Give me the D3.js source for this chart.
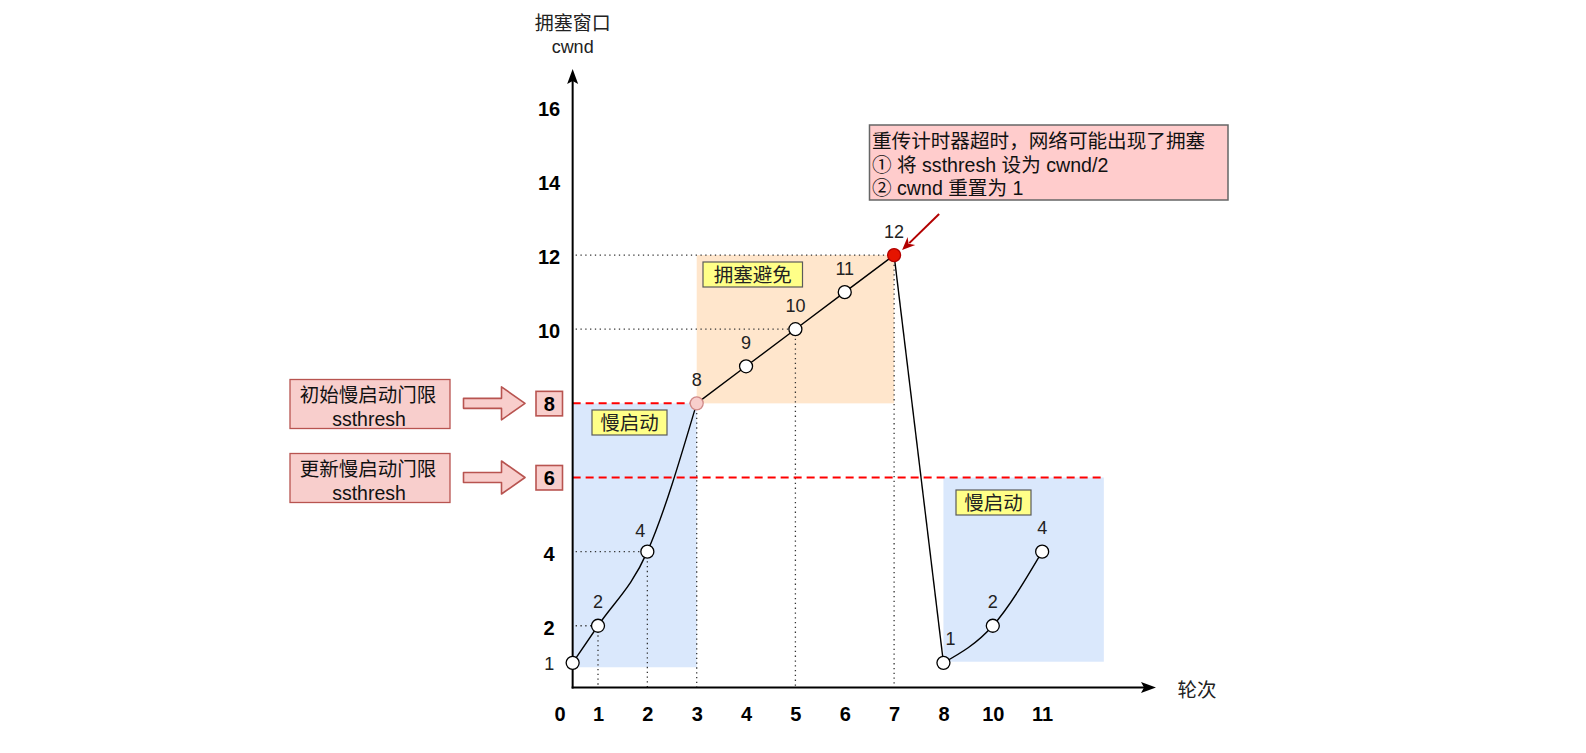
<!DOCTYPE html>
<html><head><meta charset="utf-8">
<script src="https://cdn.jsdelivr.net/npm/d3@7"></script>
<style>
html,body{margin:0;padding:0;background:#fff;}
svg{display:block;}
text{font-family:"Liberation Sans","Noto Sans CJK SC",Arial,sans-serif;}
</style></head>
<body><svg id="c" width="1586" height="753"></svg>
<script>
// ---- data ----
const xLabels = ['0','1','2','3','4','5','6','7','8','10','11'];
const yTicks = [16,14,12,10,4,2];
const ssthreshTicks = [8,6];
const ss1Rounds = ['0','1','2','3'];
const ss1Cwnd = [1,2,4,8];
const caRounds = ['3','4','5','6','7'];
const caCwnd = [8,9,10,11,12];
const dropRounds = ['7','8'];
const dropCwnd = [12,1];
const ss2Rounds = ['8','10','11'];
const ss2Cwnd = [1,2,4];
const dottedH = [2,4,10,12];          // horizontal guides (cwnd)
const dottedV = ['1','2','3','5','7']; // vertical guides (rounds)
const calloutLines = ['重传计时器超时，网络可能出现了拥塞','① 将 ssthresh 设为 cwnd/2','② cwnd 重置为 1'];
const leftNotes = [['初始慢启动门限','ssthresh'],['更新慢启动门限','ssthresh']];

// ---- scales ----
const svg = d3.select('#c');
const x = d3.scalePoint().domain(xLabels).range([548.65, 1042.15]);
const y = d3.scaleLinear().domain([0,16]).range([699.9, 106.8]);
const axisX = x('0') + 24;
const axisY = 687.5;
const px = r => r === '0' ? axisX : x(r);
const step = x.step();

const zip = (rs, vs) => rs.map((r,i)=>({r, v:vs[i]}));
const ss1 = zip(ss1Rounds, ss1Cwnd), ca = zip(caRounds, caCwnd), drop = zip(dropRounds, dropCwnd), ss2 = zip(ss2Rounds, ss2Cwnd);

// ---- shaded regions ----
svg.append('rect').attr('x', axisX).attr('y', y(8)).attr('width', px('3')-axisX).attr('height', y(0.88)-y(8)).attr('fill','#dae8fc');
svg.append('rect').attr('x', px('3')).attr('y', y(12)).attr('width', px('7')-px('3')).attr('height', y(8)-y(12)).attr('fill','#ffe6cc');
svg.append('rect').attr('x', px('8')).attr('y', y(6)).attr('width', px('11')+1.25*step-px('8')).attr('height', y(1.03)-y(6)).attr('fill','#dae8fc');

// ---- dotted guides ----
const all = [...ss1, ...ca, ...ss2];
const find = v => all.find(d=>d.v===v);
dottedH.forEach(v=>{
  const d = find(v);
  svg.append('line').attr('x1', axisX+3).attr('x2', px(d.r)).attr('y1', y(v)).attr('y2', y(v))
    .attr('stroke','#333').attr('stroke-width',1.3).attr('stroke-dasharray','1.3,3.5');
});
dottedV.forEach(r=>{
  const d = all.find(e=>e.r===r);
  svg.append('line').attr('x1', px(r)).attr('x2', px(r)).attr('y1', y(d.v)).attr('y2', axisY)
    .attr('stroke','#333').attr('stroke-width',1.3).attr('stroke-dasharray','1.3,3.5');
});

// ---- ssthresh dashed lines ----
svg.append('line').attr('x1', axisX).attr('x2', px('3')).attr('y1', y(8)).attr('y2', y(8))
  .attr('stroke','#ff0000').attr('stroke-width',2).attr('stroke-dasharray','8,5');
svg.append('line').attr('x1', axisX).attr('x2', px('11')+1.22*step).attr('y1', y(6)).attr('y2', y(6))
  .attr('stroke','#ff0000').attr('stroke-width',2).attr('stroke-dasharray','8,5');

// ---- axes ----
svg.append('line').attr('x1', axisX).attr('x2', axisX).attr('y1', axisY+1).attr('y2', 80).attr('stroke','#000').attr('stroke-width',2);
svg.append('path').attr('d', `M${axisX},69 L${axisX-5.5},84 L${axisX},81 L${axisX+5.5},84Z`).attr('fill','#000');
svg.append('line').attr('x1', axisX-1).attr('x2', 1145).attr('y1', axisY).attr('y2', axisY).attr('stroke','#000').attr('stroke-width',2);
svg.append('path').attr('d', `M1156,${axisY} L1141,${axisY-5.5} L1144,${axisY} L1141,${axisY+5.5}Z`).attr('fill','#000');

const gx = svg.append('g').attr('transform', `translate(0,${axisY})`)
  .call(d3.axisBottom(x).tickSize(0).tickPadding(0));
gx.select('.domain').remove();
gx.selectAll('text').attr('font-size',20).attr('font-weight','bold').attr('fill','#000')
  .attr('y', 26).attr('dy','0.35em')
  .attr('font-family','"Liberation Sans","Noto Sans CJK SC",sans-serif');
gx.selectAll('.tick').filter(d=>d==='0').attr('transform', `translate(${x('0')+11.5},0)`);

const gy = svg.append('g').attr('transform', `translate(${axisX},0)`)
  .call(d3.axisLeft(y).tickValues(yTicks).tickSize(0).tickFormat(d3.format('d')));
gy.select('.domain').remove();
gy.selectAll('text').attr('font-size',20).attr('font-weight','bold').attr('fill','#000')
  .attr('x', 549-axisX).attr('text-anchor','middle').attr('dy','0.42em')
  .attr('font-family','"Liberation Sans","Noto Sans CJK SC",sans-serif');

// axis titles
svg.append('text').attr('x', axisX).attr('y', 23).attr('text-anchor','middle').attr('dominant-baseline','central')
  .attr('font-size',19).attr('fill','#222').text('拥塞窗口');
svg.append('text').attr('x', axisX).attr('y', 47).attr('text-anchor','middle').attr('dominant-baseline','central')
  .attr('font-size',18).attr('fill','#222').text('cwnd');
svg.append('text').attr('x', 1197).attr('y', 690).attr('text-anchor','middle').attr('dominant-baseline','central')
  .attr('font-size',19.5).attr('fill','#222').text('轮次');

// ---- curves ----
const lineC = d3.line().x(d=>px(d.r)).y(d=>y(d.v)).curve(d3.curveMonotoneX);
const lineS = d3.line().x(d=>px(d.r)).y(d=>y(d.v));
svg.append('path').attr('d', lineC(ss1)).attr('fill','none').attr('stroke','#000').attr('stroke-width',1.4);
svg.append('path').attr('d', lineS(ca)).attr('fill','none').attr('stroke','#000').attr('stroke-width',1.4);
svg.append('path').attr('d', lineS(drop)).attr('fill','none').attr('stroke','#000').attr('stroke-width',1.4);
svg.append('path').attr('d', lineC(ss2)).attr('fill','none').attr('stroke','#000').attr('stroke-width',1.4);

// ---- points ----
const pts = [...ss1.slice(0,3), ...ca.slice(1,4), ...ss2];
svg.selectAll('circle.p').data(pts).enter().append('circle').attr('class','p')
  .attr('cx', d=>px(d.r)).attr('cy', d=>y(d.v)).attr('r',6.5)
  .attr('fill','#fff').attr('stroke','#000').attr('stroke-width',1.3);
svg.append('circle').attr('cx', px('3')).attr('cy', y(8)).attr('r',6.5).attr('fill','#f8cecc').attr('stroke','#d08a88').attr('stroke-width',1.3);
svg.append('circle').attr('cx', px('7')).attr('cy', y(12)).attr('r',6.5).attr('fill','#e51400').attr('stroke','#b20000').attr('stroke-width',1.3);

// ---- point labels ----
const labelPts = [...ss1, ...ca.slice(1), ...ss2];
svg.selectAll('text.pl').data(labelPts).enter().append('text').attr('class','pl')
  .attr('x', (d,i)=> {
    if (d.r==='0') return px(d.r)-23.5;
    if (d.r==='2') return px(d.r)-7;
    if (d.r==='8' && d.v===1) return px(d.r)+7;
    return px(d.r);
  })
  .attr('y', d=> d.r==='0' ? y(d.v)+1 : y(d.v)-(d.r==='2'?21:23.5))
  .attr('text-anchor','middle').attr('dominant-baseline','central')
  .attr('font-size',18).attr('fill','#222').text(d=>d.v);

// ---- ssthresh boxes on y axis ----
ssthreshTicks.forEach(v=>{
  svg.append('rect').attr('x',536).attr('y', y(v)-12).attr('width',26.5).attr('height',24.5)
    .attr('fill','#f8cecc').attr('stroke','#b85450').attr('stroke-width',1.6);
  svg.append('text').attr('x',549.3).attr('y', y(v)+1).attr('text-anchor','middle').attr('dominant-baseline','central')
    .attr('font-size',20).attr('font-weight','bold').attr('fill','#000').text(v);
});

// ---- left notes and block arrows ----
ssthreshTicks.forEach((v,i)=>{
  const cy = y(v);
  const top = i===0 ? 379.5 : 453.5;
  svg.append('rect').attr('x',290).attr('y',top).attr('width',160).attr('height',49)
    .attr('fill','#f8cecc').attr('stroke','#b85450').attr('stroke-width',1.3);
  svg.append('text').attr('x',368).attr('y',top+15.5).attr('text-anchor','middle').attr('dominant-baseline','central')
    .attr('font-size',19.5).attr('fill','#111').attr('font-family','"Noto Sans CJK SC",sans-serif').text(leftNotes[i][0]);
  svg.append('text').attr('x',369).attr('y',top+39).attr('text-anchor','middle').attr('dominant-baseline','central')
    .attr('font-size',19.5).attr('fill','#111').attr('font-family','"Noto Sans CJK SC",sans-serif').text(leftNotes[i][1]);
  const x0=463.5, xh=501.5, x1=525;
  svg.append('path').attr('d', `M${x0},${cy-5}L${xh},${cy-5}L${xh},${cy-16.5}L${x1},${cy}L${xh},${cy+16.5}L${xh},${cy+5}L${x0},${cy+5}Z`)
    .attr('fill','#f8cecc').attr('stroke','#b85450').attr('stroke-width',1.6).attr('stroke-linejoin','round');
});

// ---- yellow phase labels ----
function tag(x0,y0,w,h,t){
  svg.append('rect').attr('x',x0).attr('y',y0).attr('width',w).attr('height',h)
    .attr('fill','#ffff88').attr('stroke','#5a5a5a').attr('stroke-width',1.2);
  svg.append('text').attr('x',x0+w/2).attr('y',y0+h/2+0.5).attr('text-anchor','middle').attr('dominant-baseline','central')
    .attr('font-size',19.5).attr('fill','#222').text(t);
}
tag(592,410,75,25,'慢启动');
tag(703,262,99.5,25,'拥塞避免');
tag(956,490,75,25,'慢启动');

// ---- callout ----
svg.append('rect').attr('x',869.5).attr('y',125).attr('width',358.5).attr('height',75)
  .attr('fill','#ffcccc').attr('stroke','#666').attr('stroke-width',1.5);
calloutLines.forEach((t,i)=>{
  svg.append('text').attr('x',872).attr('y',[141,164.5,187.5][i]).attr('dominant-baseline','central')
    .attr('font-size',19.6).attr('fill','#111').text(t);
});
// red arrow pointing at the timeout point
const tipX = px('7')+8, tipY = y(12)-5;
const sX = tipX+37, sY = tipY-36;
const ang = Math.atan2(tipY-sY, tipX-sX);
const hl = 13, hw = 5.5;
const bx = tipX - hl*Math.cos(ang), by = tipY - hl*Math.sin(ang);
svg.append('line').attr('x1',sX).attr('y1',sY).attr('x2',bx+3*Math.cos(ang)).attr('y2',by+3*Math.sin(ang))
  .attr('stroke','#b20000').attr('stroke-width',2);
svg.append('path').attr('d', `M${tipX},${tipY}L${bx - hw*Math.sin(ang)},${by + hw*Math.cos(ang)}L${bx+4*Math.cos(ang)},${by+4*Math.sin(ang)}L${bx + hw*Math.sin(ang)},${by - hw*Math.cos(ang)}Z`)
  .attr('fill','#b20000');
</script></body></html>
